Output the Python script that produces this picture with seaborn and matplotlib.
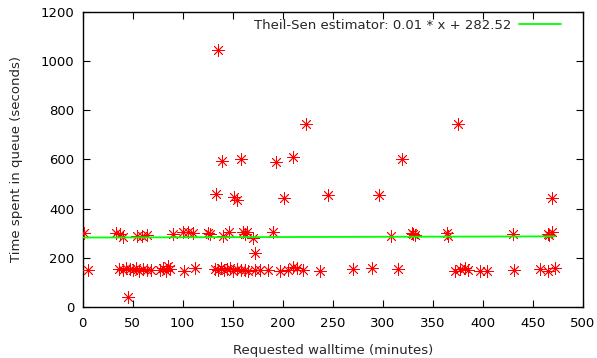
import matplotlib
matplotlib.use("Agg")
import matplotlib.pyplot as plt
import seaborn as sns
import numpy as np
import pandas as pd

# Requested walltime (minutes) and time spent in queue (seconds)
walltime = [
    1, 33, 37, 40, 54, 59, 64, 90, 100, 105, 110, 125, 127, 140, 146, 160, 162, 164, 170, 190,
    308, 329, 330, 332, 364, 365, 430, 465, 469, 466,
    172,
    135, 223, 139, 158, 193, 210, 133, 151, 154, 201, 245, 296, 319, 375, 469,
    5, 36, 40, 43, 47, 50, 53, 56, 60, 64, 68, 77, 80, 83, 85, 87, 101, 112,
    132, 135, 138, 141, 144, 147, 150, 154, 158, 162, 165, 172, 177, 185,
    197, 205, 210, 214, 220, 237, 270, 289, 315, 372, 377, 382, 385, 397, 404,
    431, 457, 465, 472,
    45,
]
queue_time = [
    300, 300, 295, 285, 290, 290, 292, 298, 305, 305, 302, 300, 298, 290, 305, 305, 298, 305, 280, 305,
    290, 300, 295, 292, 300, 288, 298, 298, 305, 292,
    219,
    1045, 745, 593, 600, 590, 611, 460, 448, 437, 442, 454, 454, 600, 745, 442,
    152, 155, 150, 160, 155, 150, 160, 148, 155, 150, 152, 150, 160, 148, 165, 155, 148, 157,
    155, 150, 160, 150, 155, 160, 148, 155, 150, 152, 148, 150, 152, 150,
    145, 150, 163, 157, 152, 145, 155, 157, 155, 145, 155, 160, 150, 145, 145,
    151, 155, 145, 158,
    42,
]

slope = 0.01
intercept = 282.52
legend_label = "Theil-Sen estimator: 0.01 * x + 282.52"

x_ticks = list(range(0, 501, 50))
y_ticks = list(range(0, 1201, 200))

sns.set_theme(style="ticks")
plt.rcParams['font.family'] = ['DejaVu Sans']

fig = plt.figure(figsize=(5.97, 3.58), dpi=100)
ax = fig.add_axes([0.1385, 0.1425, 0.8375, 0.824])

df = pd.DataFrame({"walltime": walltime, "queue": queue_time})
sns.scatterplot(data=df, x="walltime", y="queue", ax=ax, marker=(8, 2, 0),
                s=70, color="#ff0000", linewidth=0.6, edgecolor="#ff0000",
                legend=False, zorder=3)

line_x = np.array([min(walltime), max(walltime)])
line_df = pd.DataFrame({"x": line_x, "y": slope * line_x + intercept})
sns.lineplot(data=line_df, x="x", y="y", ax=ax, color="#00ff00", linewidth=1.3,
             label=legend_label, zorder=4)

ax.set_xlim(0, 500)
ax.set_ylim(0, 1200)
ax.set_xticks(x_ticks)
ax.set_yticks(y_ticks)
ax.tick_params(direction="in", top=True, right=True, length=5, width=0.8,
               labelsize=9.5, colors="black")
ax.tick_params(axis="x", pad=7)
ax.tick_params(axis="y", pad=6)
for side in ax.spines.values():
    side.set_linewidth(1.0)
    side.set_color("black")
ax.set_xlabel("Requested walltime (minutes)", fontsize=9.5, labelpad=10)
ax.set_ylabel("Time spent in queue (seconds)", fontsize=9.5, labelpad=13)

leg = ax.legend(loc="upper right", frameon=False, markerfirst=False,
                fontsize=9.5, handlelength=3.2, handletextpad=0.6,
                borderaxespad=0.2, borderpad=0.3,
                bbox_to_anchor=(0.97, 1.0))

fig.savefig("out.png", dpi=100)
